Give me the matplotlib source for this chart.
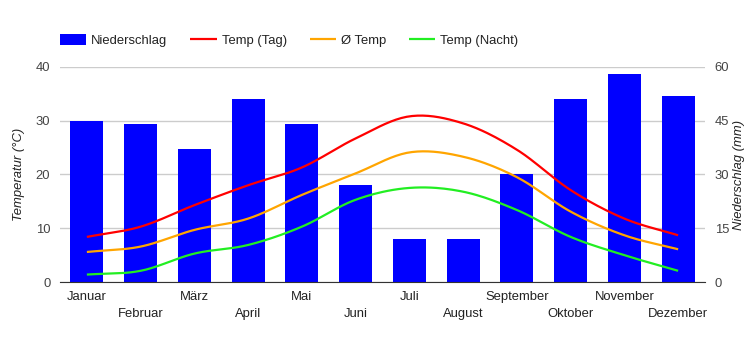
import matplotlib
matplotlib.use('Agg')
import matplotlib.pyplot as plt
import numpy as np

months = ['Januar', 'Februar', 'März', 'April', 'Mai', 'Juni',
          'Juli', 'August', 'September', 'Oktober', 'November', 'Dezember']
niederschlag = [45, 44, 37, 51, 44, 27, 12, 12, 30, 51, 58, 52]
temp_tag = [8.4, 10.3, 14.3, 18.0, 21.3, 26.7, 30.8, 29.5, 24.6, 17.1, 11.8, 8.7]
temp_avg = [5.6, 6.6, 9.7, 11.8, 16.2, 20.2, 24.1, 23.3, 19.5, 13.1, 8.7, 6.1]
temp_nacht = [1.4, 2.1, 5.3, 6.9, 10.3, 15.3, 17.5, 16.8, 13.4, 8.4, 5.0, 2.1]


def smooth(x, y, n=20):
    # Catmull-Rom style curve through the points (like curveType 'function')
    x = np.asarray(x, float)
    y = np.asarray(y, float)
    xs, ys = [], []
    for i in range(len(x) - 1):
        p0 = y[i - 1] if i > 0 else y[i]
        p3 = y[i + 2] if i + 2 < len(y) else y[i + 1]
        p1, p2 = y[i], y[i + 1]
        t = np.linspace(0, 1, n, endpoint=False)
        m1 = (p2 - p0) / 2 if i > 0 else (p2 - p1)
        m2 = (p3 - p1) / 2 if i + 2 < len(y) else (p2 - p1)
        h00 = 2 * t**3 - 3 * t**2 + 1
        h10 = t**3 - 2 * t**2 + t
        h01 = -2 * t**3 + 3 * t**2
        h11 = t**3 - t**2
        xs.extend(x[i] + t * (x[i + 1] - x[i]))
        ys.extend(h00 * p1 + h10 * m1 + h01 * p2 + h11 * m2)
    xs.append(x[-1])
    ys.append(y[-1])
    return np.array(xs), np.array(ys)


plt.rcParams['font.family'] = ['Liberation Sans', 'DejaVu Sans']
fs = 9.4
tc = '#444444'

fig = plt.figure(figsize=(7.5, 3.5), dpi=100)
ax2 = fig.add_axes([0.08, 0.194, 0.86, 0.615])   # precipitation (bottom layer)
ax = ax2.twinx()                                   # temperature on top
ax.set_zorder(ax2.get_zorder() + 1)
ax.patch.set_visible(False)

x = np.arange(len(months))
bars = ax2.bar(x, niederschlag, width=0.61, color='#0000ff', label='Niederschlag', zorder=2)
ax2.set_ylim(0, 60)
ax2.set_yticks([0, 15, 30, 45, 60])
ax2.set_xlim(-0.5, len(months) - 0.5)
ax2.grid(True, axis='y', color='#cccccc', linewidth=1)
ax2.set_axisbelow(True)
ax2.yaxis.tick_right()
ax2.yaxis.set_label_position('right')
ax2.set_ylabel('Niederschlag (mm)', fontsize=fs, style='italic', color='#222222', labelpad=3)

ax.set_ylim(0, 40)
ax.set_yticks([0, 10, 20, 30, 40])
ax.yaxis.tick_left()
ax.yaxis.set_label_position('left')
ax.set_ylabel('Temperatur (°C)', fontsize=fs, style='italic', color='#222222', labelpad=8)

lines = []
for vals, col, lab in [(temp_tag, '#ff0000', 'Temp (Tag)'),
                       (temp_avg, '#ffa500', 'Ø Temp'),
                       (temp_nacht, '#22ee22', 'Temp (Nacht)')]:
    sx, sy = smooth(x, vals)
    l, = ax.plot(sx, sy, color=col, linewidth=1.6, label=lab, solid_capstyle='butt')
    lines.append(l)

for a in (ax, ax2):
    for s in a.spines.values():
        s.set_visible(False)
    a.tick_params(axis='y', length=0, labelsize=fs, labelcolor=tc, pad=7)
ax2.spines['bottom'].set_visible(True)
ax2.spines['bottom'].set_color('#333333')
ax2.spines['bottom'].set_zorder(5)

ax2.set_xticks(x)
ax2.set_xticklabels(months, fontsize=fs, color='#222222')
ax2.tick_params(axis='x', length=0)
for i, tick in enumerate(ax2.xaxis.get_major_ticks()):
    tick.set_pad(6.5 if i % 2 == 0 else 19)
ax.tick_params(axis='x', length=0, labelbottom=False)

leg = fig.legend([bars] + lines, ['Niederschlag', 'Temp (Tag)', 'Ø Temp', 'Temp (Nacht)'],
                 loc='upper left', bbox_to_anchor=(0.073, 0.919), ncol=4, frameon=False,
                 fontsize=fs, handlelength=2.0, handleheight=1.0, handletextpad=0.4,
                 columnspacing=1.75, borderaxespad=0)
for t in leg.get_texts():
    t.set_color('#222222')

fig.savefig('out.png', dpi=100)
